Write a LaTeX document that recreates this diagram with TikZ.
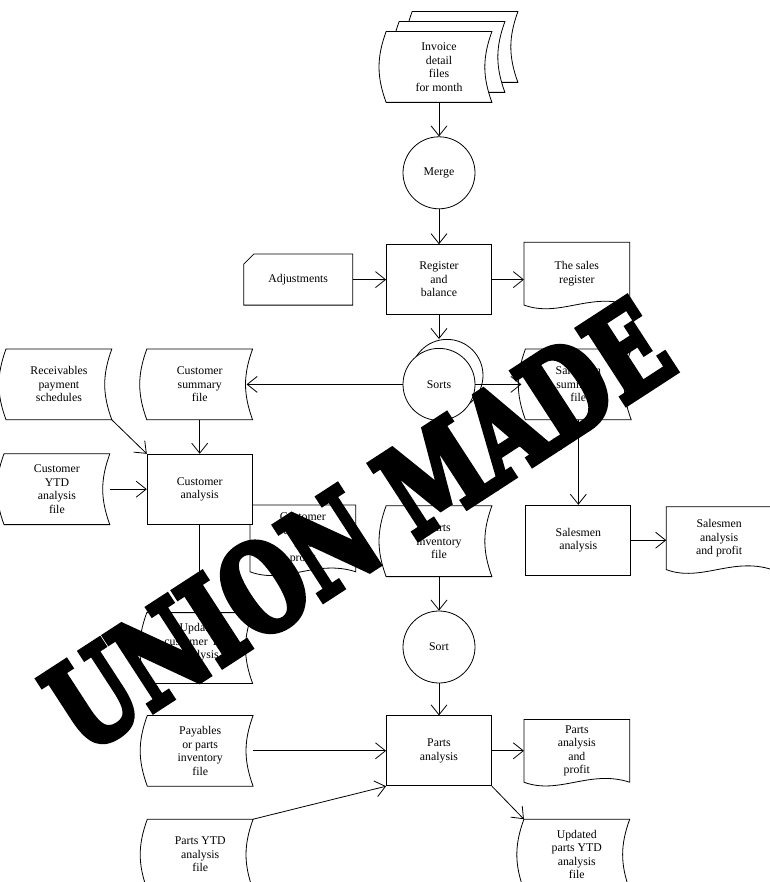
\documentclass[tikz,border=0pt]{standalone}
\usepackage{fontspec}
\setmainfont{Liberation Serif}
\newfontfamily\stampfont{DejaVu Serif Condensed}[BoldFeatures={FakeBold=5}]
\usepackage{tikz}
\usetikzlibrary{arrows.meta,positioning,calc,shapes.misc}
\pgfdeclarelayer{background}
\pgfsetlayers{background,main}
% outlines drawn behind the node texts
\newcommand{\filebody}[1]{\draw[fill=white] (#1.north west) to[bend right=20] (#1.south west) -- (#1.south east) to[bend left=20] (#1.north east) -- cycle;}
\newcommand{\docbody}[1]{\draw[fill=white] (#1.north west) -- (#1.south west) .. controls ($(#1.south west)+(35,-13)$) and ($(#1.south east)+(-40,13)$) .. (#1.south east) -- (#1.north east) -- cycle;}

\begin{document}
\begin{tikzpicture}[
    x=1pt, y=1pt,
    font=\fontsize{11.8}{13.5}\selectfont,
    every path/.style={line width=0.8pt},
    proc/.style={draw, fill=white, align=center, minimum height=70pt, minimum width=105pt},
    file/.style={align=center, minimum height=70pt, minimum width=105pt},
    doc/.style={align=center, minimum height=62pt, minimum width=105pt},
    circ/.style={draw, fill=white, circle, minimum size=72pt, inner sep=0pt},
    card/.style={draw, fill=white, chamfered rectangle, chamfered rectangle corners=north west, chamfered rectangle xsep=7pt, align=center, minimum height=51pt, minimum width=109pt},
    arrow/.style={-{Straight Barb[length=10pt, width=16pt]}},
    stamp/.style={font=\stampfont\bfseries\fontsize{122}{122}\selectfont, text=black, inner sep=0pt}
]
\useasboundingbox (0,0) rectangle (769,-882);

% main column
\node[file] (inv3) at (465,-47) {};
\node[file] (inv2) at (452,-57) {};
\node[file] (invoice) at (439,-67) {Invoice\\detail\\files\\for month};
\node[circ, below=34pt of invoice] (merge) {Merge};
\node[proc, below=35pt of merge] (register) {Register\\and\\balance};
\node[card, left=33pt of register] (adjust) {Adjustments};
\node[doc, right=32pt of register, yshift=6pt] (salesreg) {The sales\\register};
\node[circ, below=33pt of register, xshift=8pt, yshift=9pt] (sortsb) {};
\node[circ, below=33pt of register] (sorts) {Sorts};
\node[file, below=85pt of sorts] (partsinv) {Parts\\inventory\\file};
\node[circ, below=34pt of partsinv] (sort) {Sort};
\node[proc, below=32pt of sort] (partsana) {Parts\\analysis};

% customer side
\node[file, left=150pt of sorts] (custsum) {Customer\\summary\\file};
\node[file, left=35pt of custsum] (receiv) {Receivables\\payment\\schedules};
\node[proc, below=34pt of custsum] (custana) {Customer\\analysis};
\node[file, left=37pt of custana] (custytd) {Customer\\YTD\\analysis\\file};
\node[doc, anchor=north west, minimum height=66pt] (custprofit) at (250,-505) {Customer\\analysis\\and\\profit};
\node[file, below=88pt of custana] (updcust) {Updated\\customer YTD\\analysis\\file};

% salesmen side
\node[file, right=50pt of sorts] (salessum) {Salesmen\\summary\\file};
\node[proc, below=85pt of salessum] (salesana) {Salesmen\\analysis};
\node[doc, right=35pt of salesana, yshift=2pt] (salesprofit) {Salesmen\\analysis\\and profit};

% parts side
\node[file, left=133pt of partsana] (payables) {Payables\\or parts\\inventory\\file};
\node[file, below=33pt of payables] (partsytd) {Parts YTD\\analysis\\file};
\node[doc, right=32pt of partsana] (partsprofit) {Parts\\analysis\\and\\profit};
\node[file, below=37pt of partsprofit] (updparts) {Updated\\parts YTD\\analysis\\file};

\begin{pgfonlayer}{background}
\filebody{inv3}
\filebody{inv2}
\filebody{invoice}
\docbody{salesreg}
\filebody{custsum}
\filebody{receiv}
\filebody{custytd}
\docbody{custprofit}
\filebody{updcust}
\filebody{salessum}
\docbody{salesprofit}
\filebody{partsinv}
\filebody{payables}
\filebody{partsytd}
\docbody{partsprofit}
\filebody{updparts}
\end{pgfonlayer}

\draw[arrow] (invoice) -- (merge);
\draw[arrow] (merge) -- (register);
\draw[arrow] (adjust) -- (register);
\draw[arrow] (register.east) -- (salesreg.west |- register.east);
\draw[arrow] (register.south) -- (sortsb.north -| register.south);
\draw[arrow, shorten >=-6pt] (sorts.west) -- (custsum.east |- sorts.west);
\draw[arrow, shorten >=4pt] (sorts.east) -- (salessum.west |- sorts.east);
\draw[arrow] (sorts) -- (partsinv);
\draw[arrow] (salessum) -- (salesana);
\draw[arrow] (salesana.east) -- (salesprofit.west |- salesana.east);
\draw[arrow] (receiv.south east) -- (custana.north west);
\draw[arrow] (custsum) -- (custana);
\draw[arrow] (custytd.east) -- (custana.west);
\draw[arrow] (custana) -- (updcust);
\draw[arrow] (partsinv) -- (sort);
\draw[arrow] (sort) -- (partsana);
\draw[arrow] (payables.east) -- (partsana.west |- payables.east);
\draw[arrow] (partsytd.north east) -- (partsana.south west);
\draw[arrow] (partsana.east) -- (partsprofit.west |- partsana.east);
\draw[arrow] (partsana.south east) -- (updparts.north west);

% the stamp over the chart
\node[stamp, rotate=33, xscale=0.82] (union) at (358,-525) {UNION MADE};
\end{tikzpicture}
\end{document}
